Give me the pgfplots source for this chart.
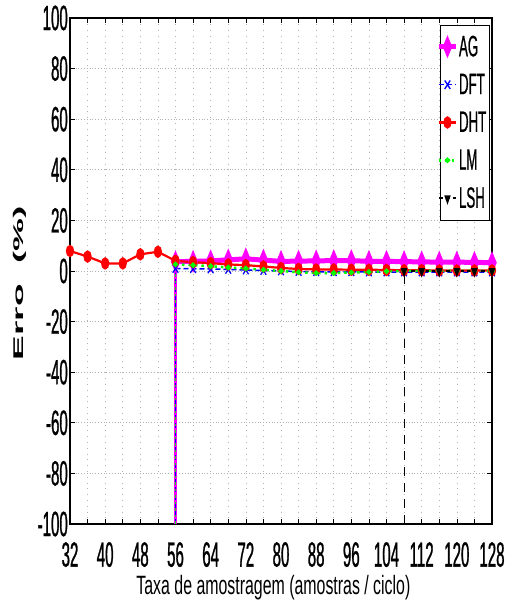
\documentclass[border=0pt]{standalone}
\usepackage{fontspec}
\setmainfont{Liberation Sans}
\newfontfamily\tickfont{Liberation Sans}[FakeStretch=0.43, FakeBold=0.8]
\newfontfamily\labfont{Liberation Sans}[FakeStretch=0.6]
\newfontfamily\legfont{Liberation Sans}[FakeStretch=0.45, FakeBold=0.6]
\usepackage{graphicx}
\usepackage{pgfplots}
\pgfplotsset{compat=1.18}
\definecolor{mlgreen}{rgb}{0,1,0}
\definecolor{mlmag}{rgb}{1,0,1}
\definecolor{mlblue}{rgb}{0,0,1}
\definecolor{mlred}{rgb}{1,0,0}
\newcommand{\lf}{\legfont\fontsize{29.5}{29.5}\selectfont}
\begin{document}
\begin{tikzpicture}
\begin{axis}[
 scale only axis, width=422pt, height=506pt,
 xmin=32, xmax=128, ymin=-100, ymax=100,
 xtick={32,40,...,128}, minor xtick={36,44,...,124},
 ytick={-100,-80,...,100},
 xticklabels={32,40,48,56,64,72,80,88,96,104,112,120,128},
 yticklabels={-100,-80,-60,-40,-20,0,20,40,60,80,100},
 tick align=inside, xtick pos=both, ytick pos=both,
 major tick length=5pt, minor tick length=5pt,
 tick style={black, line width=0.6pt},
 grid=both,
 x grid style={gray!60, line width=0.6pt, dash pattern=on 0.8pt off 5pt},
 y grid style={gray!60, line width=0.8pt, dash pattern=on 0.6pt off 2.2pt},
 axis line style={line width=1.1pt},
 ticklabel style={font=\tickfont\fontsize{35}{35}\selectfont, inner sep=0pt},
 xticklabel style={anchor=north, yshift=-18pt},
 yticklabel style={anchor=east, xshift=-2pt},
 xlabel={\labfont\fontsize{26.5}{26.5}\selectfont Taxa de amostragem (amostras / ciclo)},
 xlabel style={at={(axis description cs:0.482,-0.1008)}, anchor=north, inner sep=0pt},
 ylabel={\scalebox{1}[0.38]{\fontsize{37}{37}\selectfont\bfseries Erro\ \ (\%)}},
 ylabel style={at={(axis description cs:-0.1185,0.476)}, anchor=center, inner sep=0pt},
 legend style={at={(1,1)}, anchor=north east, xshift=-3pt, yshift=-9pt,
   draw=none, fill=none, inner xsep=2pt, inner ysep=8pt,
   row sep=15pt, font=\legfont\fontsize{8}{8}\selectfont,
   nodes={inner sep=0.5pt}},
 legend cell align=left,
 legend image post style={xshift=2pt},
]
% legend frame
\draw[black, line width=1pt, fill=white] (axis description cs:0.879,0.986) rectangle (axis description cs:0.993,0.599);
% AG
\addplot[mlmag, line width=2.5pt, forget plot] coordinates {(56,-100) (56,3.7)};
\addplot[mlmag, line width=5pt, mark=diamond*, mark size=5pt,
  mark options={solid, xscale=0.55, fill=mlmag}] coordinates {
 (56,3.7) (60,3.8) (64,4.0) (68,4.4) (72,4.8) (76,4.3) (80,3.8) (84,3.9) (88,4.0) (92,4.1)
 (96,4.1) (100,3.8) (104,3.8) (108,3.7) (112,3.6) (116,3.5) (120,3.5) (124,3.4) (128,3.3)};
\addlegendentry{\lf AG}
% DFT
\addplot[mlblue, line width=0.8pt, dash pattern=on 5pt off 3pt, forget plot] coordinates {(56,-100) (56,1.0)};
\addplot[mlblue, line width=1.5pt, dash pattern=on 5pt off 3pt, mark=x, mark size=6pt,
  mark options={solid, xscale=0.65, line width=1.3pt}] coordinates {
 (56,1.0) (60,0.9) (64,0.8) (68,0.6) (72,0.4) (76,0.2) (80,0.0) (84,-0.2) (88,-0.3) (92,-0.3)
 (96,-0.3) (100,-0.4) (104,-0.4) (108,-0.4) (112,-0.4) (116,-0.4) (120,-0.4) (124,-0.4) (128,-0.4)};
\addlegendentry{\lf DFT}
% DHT
\addplot[mlred, line width=2.2pt, mark=*, mark size=5pt,
  mark options={solid, xscale=0.6}] coordinates {
 (32,7.9) (36,5.7) (40,3.0) (44,3.0) (48,6.6) (52,7.6) (56,4.0) (60,3.5) (64,3.1) (68,2.6)
 (72,2.3) (76,1.8) (80,1.2) (84,0.8) (88,0.6) (92,0.6) (96,0.5) (100,0.5) (104,0.4) (108,0.3)
 (112,0.3) (116,0.2) (120,0.2) (124,0.2) (128,0.2)};
\addlegendentry{\lf DHT}
% LM
\addplot[mlgreen, line width=1.2pt, dash pattern=on 2.5pt off 4pt, forget plot] coordinates {(56,-100) (56,2.6)};
\addplot[mlgreen, line width=2.5pt, dash pattern=on 2.5pt off 4pt, mark=*, mark size=1.3pt,
  mark options={solid}] coordinates {
 (56,2.6) (60,2.3) (64,1.9) (68,1.4) (72,1.0) (76,0.5) (80,0.0) (84,-0.5) (88,-0.8) (92,-0.8)
 (96,-0.6) (100,-0.4) (104,-0.1) (108,0) (112,0) (116,0) (120,0) (124,0) (128,0)};
\addlegendentry{\lf LM}
% LSH
\addplot[black, line width=1pt, dash pattern=on 9pt off 7pt, forget plot] coordinates {(108,-100) (108,0)};
\addplot[black, line width=2pt, dash pattern=on 4pt off 3pt, mark=triangle*, mark size=3.5pt,
  mark options={solid, rotate=180, xscale=0.6}] coordinates {
 (108,0) (112,0) (116,0) (120,0) (124,0) (128,0)};
\addlegendentry{\lf LSH}
\end{axis}
\pgfresetboundingbox
\path (-70pt,-88pt) rectangle (439pt,524pt);
\end{tikzpicture}
\end{document}
